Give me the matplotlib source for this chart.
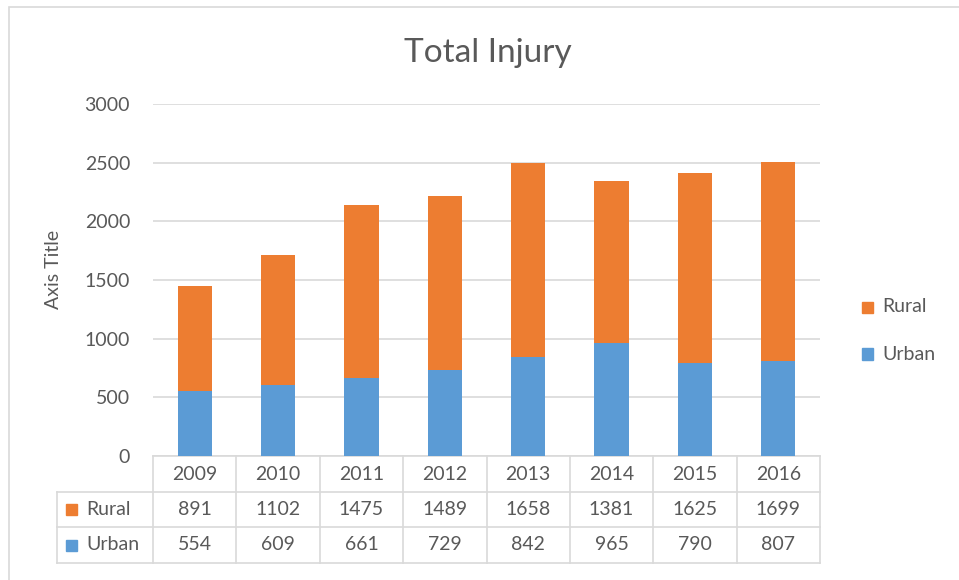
import matplotlib
matplotlib.use("Agg")
import matplotlib.pyplot as plt
from matplotlib.transforms import blended_transform_factory
from matplotlib.patches import Rectangle

years = ["2009", "2010", "2011", "2012", "2013", "2014", "2015", "2016"]
urban = [554, 609, 661, 729, 842, 965, 790, 807]
rural = [891, 1102, 1475, 1489, 1658, 1381, 1625, 1699]
yticks = [0, 500, 1000, 1500, 2000, 2500, 3000]

C_RURAL = "#ED7D31"
C_URBAN = "#5B9BD5"
TXT = "#595959"
GRID = "#D9D9D9"
plt.rcParams['font.family'] = ['Lato', 'DejaVu Sans']
FS = 14

W, H = 959, 580
fig = plt.figure(figsize=(W / 100, H / 100), dpi=100)

def fy(py):
    return 1 - py / H

def fx(px):
    return px / W

# outer border
fig.patches.append(Rectangle((fx(8.5), fy(600)), 2, fy(6.5) - fy(600), transform=fig.transFigure,
                             fill=False, edgecolor=GRID, linewidth=1.2))

left, right, top, bottom = 153, 820, 104, 456
ax = fig.add_axes([fx(left), fy(bottom), fx(right) - fx(left), fy(top) - fy(bottom)])
x = list(range(len(years)))
ax.bar(x, urban, width=0.41, color=C_URBAN, zorder=3)
ax.bar(x, rural, width=0.41, bottom=urban, color=C_RURAL, zorder=3)
ax.set_xlim(-0.5, len(years) - 0.5)
ax.set_ylim(0, 3000)
ax.set_yticks(yticks)
ax.set_yticklabels([str(v) for v in yticks])
ax.tick_params(axis='y', length=0, pad=16.5, labelsize=FS, labelcolor=TXT)
ax.tick_params(axis='x', length=0, labelbottom=False)
ax.grid(axis='y', color=GRID, linewidth=1.2, zorder=0)
for s in ax.spines.values():
    s.set_visible(False)
ax.set_ylabel("Axis Title", fontsize=FS, color=TXT)
ax.yaxis.set_label_coords((62 - left) / (right - left), (bottom - 269) / (bottom - top))

fig.text(fx(488), fy(62), "Total Injury", ha='center', va='baseline', fontsize=24, color=TXT)

# data table
tr = blended_transform_factory(ax.transData, fig.transFigure)
rows = [456, 492, 527, 563]
lw = 1.2
ax.plot([-0.5, 7.5], [fy(rows[0])] * 2, transform=tr, color=GRID, lw=lw, clip_on=False)
for r in rows[1:]:
    fig.add_artist(plt.Line2D([fx(57), fx(right)], [fy(r)] * 2, transform=fig.transFigure, color=GRID, lw=lw))
for i in range(len(years) + 1):
    ax.plot([i - 0.5, i - 0.5], [fy(rows[0]), fy(rows[-1])], transform=tr, color=GRID, lw=lw, clip_on=False)
fig.add_artist(plt.Line2D([fx(57), fx(57)], [fy(rows[1]), fy(rows[-1])], transform=fig.transFigure, color=GRID, lw=lw))

for i, yr in enumerate(years):
    ax.text(i, fy((rows[0] + rows[1]) / 2), yr, transform=tr, ha='center', va='center', fontsize=FS, color=TXT)
    ax.text(i, fy((rows[1] + rows[2]) / 2), str(rural[i]), transform=tr, ha='center', va='center', fontsize=FS, color=TXT)
    ax.text(i, fy((rows[2] + rows[3]) / 2), str(urban[i]), transform=tr, ha='center', va='center', fontsize=FS, color=TXT)

for (lbl, col, r0, r1) in [("Rural", C_RURAL, rows[1], rows[2]), ("Urban", C_URBAN, rows[2], rows[3])]:
    yc = (r0 + r1) / 2
    fig.patches.append(Rectangle((fx(66), fy(yc + 5.5)), fx(11), fy(yc - 5.5) - fy(yc + 5.5), transform=fig.transFigure,
                                 color=col))
    fig.text(fx(86), fy(yc), lbl, ha='left', va='center', fontsize=FS, color=TXT)

# legend
for (lbl, col, yc) in [("Rural", C_RURAL, 307), ("Urban", C_URBAN, 354)]:
    fig.patches.append(Rectangle((fx(862), fy(yc + 5.5)), fx(11), fy(yc - 5.5) - fy(yc + 5.5), transform=fig.transFigure,
                                 color=col))
    fig.text(fx(882), fy(yc), lbl, ha='left', va='center', fontsize=FS, color=TXT)

fig.savefig("out.png", dpi=100)
